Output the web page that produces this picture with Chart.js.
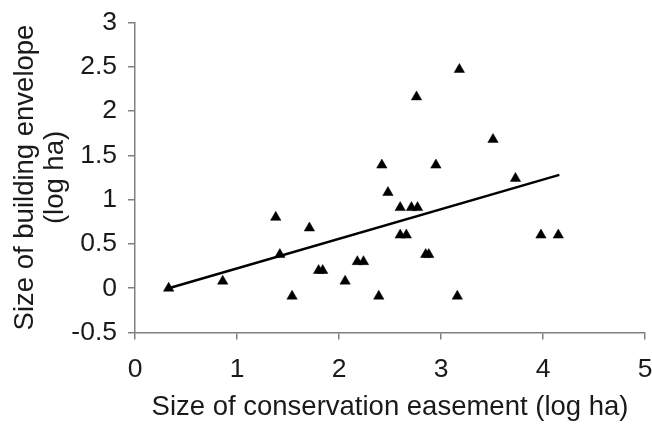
<!DOCTYPE html>
<html lang="en">
<head>
  <meta charset="UTF-8">
  <title>Building envelope vs conservation easement</title>
  <script src="https://cdn.jsdelivr.net/npm/chart.js"></script>
  <style>
    body { margin: 0; background: #fff; }
  </style>
</head>
<body>
  <canvas id="envChart" width="652" height="425"></canvas>

  <script>
    // values (log ha)
    const easementX = [0.33, 0.86, 1.38, 1.42, 1.54, 1.71, 1.80, 1.84, 2.06, 2.18,
                       2.24, 2.39, 2.42, 2.48, 2.60, 2.60, 2.66, 2.71, 2.76, 2.77,
                       2.85, 2.88, 2.95, 3.16, 3.18, 3.51, 3.73, 3.98, 4.15];
    const envelopeY = [0.00, 0.08, 0.80, 0.38, -0.09, 0.68, 0.20, 0.20, 0.08, 0.30,
                       0.30, -0.09, 1.39, 1.08, 0.91, 0.60, 0.60, 0.91, 2.16, 0.91,
                       0.38, 0.38, 1.39, -0.09, 2.47, 1.68, 1.24, 0.60, 0.60];
    // fitted line end points
    const fitX = [0.33, 4.16];
    const fitY = [0.00, 1.28];

    const xTitle = 'Size of conservation easement (log ha)';
    const yTitle = ['Size of building envelope', '(log ha)'];

    const family = "'Liberation Sans', Arial, sans-serif";
    const tickFont = { family: family, size: 26.5 };
    const titleFont = { family: family, size: 27.5, lineHeight: 1.1 };
    const axisGrey = '#808080';
    const textCol = '#1a1a1a';

    const points = easementX.map((x, i) => ({ x: x, y: envelopeY[i] }));
    const fit = fitX.map((x, i) => ({ x: x, y: fitY[i] }));

    const ctx = document.getElementById('envChart').getContext('2d');
    const chart = new Chart(ctx, {
      type: 'scatter',
      data: {
        datasets: [{
          label: 'plots',
          data: points,
          pointStyle: 'triangle',
          pointRadius: 6,
          pointHoverRadius: 6,
          backgroundColor: '#000',
          borderColor: '#000',
          borderWidth: 0.5
        }, {
          label: 'fit',
          data: fit,
          showLine: true,
          pointRadius: 0,
          borderColor: '#000',
          borderWidth: 2.5
        }]
      },
      options: {
        responsive: false,
        animation: false,
        layout: { padding: { top: 22.5, right: 7, bottom: 0, left: 0 } },
        plugins: {
          legend: { display: false },
          tooltip: { enabled: false }
        },
        scales: {
          x: {
            type: 'linear',
            min: 0,
            max: 5,
            afterFit: s => { s.height = 92.5; s.paddingLeft = 0; s.paddingRight = 0; },
            ticks: { stepSize: 1, font: tickFont, color: textCol, padding: 14,
                     maxRotation: 0, callback: v => v.toString() },
            grid: { drawOnChartArea: false, drawTicks: true, tickLength: 7,
                    color: axisGrey, lineWidth: 1.5 },
            border: { display: true, color: axisGrey, width: 1.5 },
            title: { display: true, text: xTitle, font: titleFont, color: textCol,
                     padding: { top: 0, bottom: 2 } }
          },
          y: {
            type: 'linear',
            min: -0.5,
            max: 3,
            afterFit: s => { s.width = 135; s.paddingTop = 0; s.paddingBottom = 0; },
            ticks: { stepSize: 0.5, font: tickFont, color: textCol, padding: 11,
                     callback: v => v.toString() },
            grid: { drawOnChartArea: false, drawTicks: true, tickLength: 7,
                    color: axisGrey, lineWidth: 1.5 },
            border: { display: true, color: axisGrey, width: 1.5 },
            title: { display: true, text: yTitle, font: titleFont, color: textCol,
                     padding: { top: 10, bottom: 0 } }
          }
        }
      }
    });
  </script>
</body>
</html>
